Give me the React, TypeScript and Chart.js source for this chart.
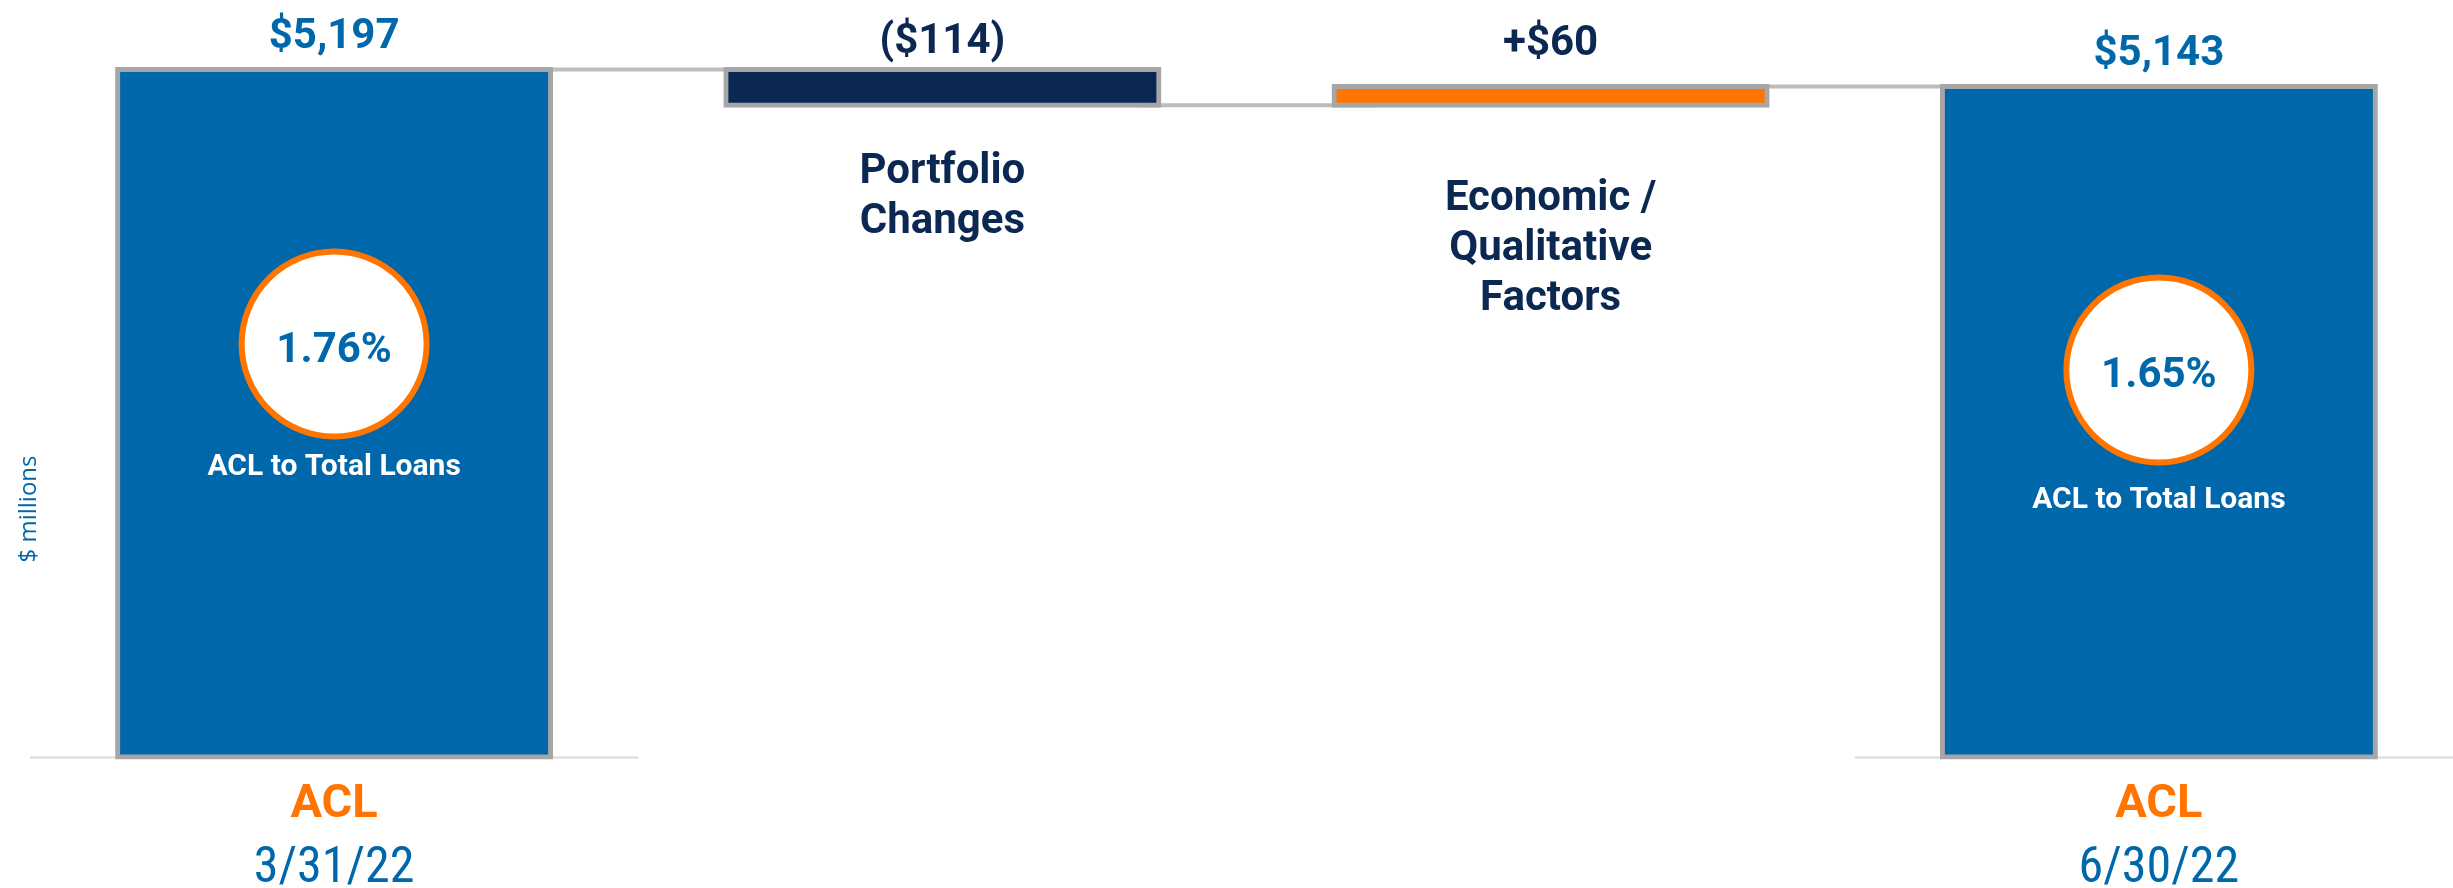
import React, { useEffect, useRef } from 'react';
import { Chart, registerables } from 'chart.js';

Chart.register(...registerables);

// ---------- data ----------
const categories = ['ACL 3/31/22', 'Portfolio Changes', 'Economic / Qualitative Factors', 'ACL 6/30/22'];
const axisTopLabels = ['ACL', '', '', 'ACL'];
const axisDateLabels = ['3/31/22', '', '', '6/30/22'];
const startingACL = 5197;
const stepChanges = [-114, 60];
const endingACL = 5143;
const valueLabels = ['$5,197', '($114)', '+$60', '$5,143'];
const ratioLabels = ['1.76%', '', '', '1.65%'];
const ratioCaption = 'ACL to Total Loans';
const stepNames: string[][] = [[], ['Portfolio', 'Changes'], ['Economic /', 'Qualitative', 'Factors'], []];
const axisFloor = 3000;
const axisCeiling = 5400;
const unitLabel = '$ millions';

// floating bars built from the values above
const barRanges: number[][] = [];
const levels: number[] = [];
barRanges.push([axisFloor, startingACL]);
let running = startingACL;
levels.push(running);
for (const c of stepChanges) {
  const next = running + c;
  barRanges.push([Math.min(running, next), Math.max(running, next)]);
  running = next;
  levels.push(running);
}
barRanges.push([axisFloor, endingACL]);

// ---------- styles ----------
const BLUE = '#0068AA';
const NAVY = '#0B2852';
const ORANGE = '#FF7500';
const GREY = '#A6A6A6';
const barColors = [BLUE, NAVY, ORANGE, BLUE];
const valueColors = [BLUE, NAVY, NAVY, BLUE];
const valueGap = [21.5, 16.5, 31, 21.5];
const nameOffset = [0, 78, 105, 0];
const circleOffset = [274.5, 0, 0, 283.5];
const captionOffset = [131, 0, 0, 138];
const VIEW_W = 2453;
const CANVAS_W = 2463;
const CANVAS_H = 888;

const decorPlugin = {
  id: 'waterfallDecor',
  beforeDatasetsDraw(chart: any) {
    const { ctx } = chart;
    const x = chart.scales.x;
    const y = chart.scales.y;
    const meta = chart.getDatasetMeta(0);
    const catW = x.getPixelForValue(1) - x.getPixelForValue(0);
    ctx.save();
    const baseY = y.getPixelForValue(axisFloor);
    ctx.strokeStyle = '#D9D9D9';
    ctx.lineWidth = 2;
    [0, 3].forEach((i) => {
      const cx = x.getPixelForValue(i);
      ctx.beginPath();
      ctx.moveTo(cx - catW / 2, baseY + 0.5);
      ctx.lineTo(Math.min(cx + catW / 2, VIEW_W), baseY + 0.5);
      ctx.stroke();
    });
    ctx.strokeStyle = '#BDBDBD';
    ctx.lineWidth = 4;
    for (let i = 0; i < levels.length; i++) {
      const a = meta.data[i];
      const b = meta.data[i + 1];
      const ly = y.getPixelForValue(levels[i]);
      ctx.beginPath();
      ctx.moveTo(a.x + a.width / 2 - 18, ly);
      ctx.lineTo(b.x - b.width / 2 + 40, ly);
      ctx.stroke();
    }
    ctx.restore();
  },
  afterDatasetsDraw(chart: any) {
    const { ctx } = chart;
    const y = chart.scales.y;
    const meta = chart.getDatasetMeta(0);
    ctx.save();
    ctx.textAlign = 'center';
    ctx.textBaseline = 'alphabetic';
    meta.data.forEach((el: any, i: number) => {
      const top = y.getPixelForValue(barRanges[i][1]);
      const bottom = y.getPixelForValue(barRanges[i][0]);
      ctx.font = 'bold 42px Roboto';
      ctx.fillStyle = valueColors[i];
      ctx.fillText(valueLabels[i], el.x, top - valueGap[i]);
      stepNames[i].forEach((line, j) => {
        ctx.font = 'bold 42px Roboto';
        ctx.fillStyle = NAVY;
        ctx.fillText(line, el.x, bottom + nameOffset[i] + j * 50);
      });
      if (ratioLabels[i]) {
        const cy = top + circleOffset[i];
        ctx.beginPath();
        ctx.arc(el.x, cy, 92.5, 0, Math.PI * 2);
        ctx.fillStyle = '#FFFFFF';
        ctx.fill();
        ctx.lineWidth = 6;
        ctx.strokeStyle = ORANGE;
        ctx.stroke();
        ctx.font = 'bold 42px Roboto';
        ctx.fillStyle = BLUE;
        ctx.fillText(ratioLabels[i], el.x, cy + 17.5);
        ctx.font = 'bold 30px Roboto';
        ctx.fillStyle = '#FFFFFF';
        ctx.fillText(ratioCaption, el.x, cy + captionOffset[i]);
      }
    });
    ctx.translate(29, 509);
    ctx.rotate(-Math.PI / 2);
    ctx.font = '24px "Open Sans"';
    ctx.fillStyle = BLUE;
    ctx.textBaseline = 'middle';
    ctx.fillText(unitLabel, 0, 0);
    ctx.restore();
  },
};

export default function App() {
  const ref = useRef<HTMLCanvasElement | null>(null);
  useEffect(() => {
    document.body.style.margin = '0';
    const canvas = ref.current;
    if (!canvas) return;
    const chart = new Chart(canvas, {
      type: 'bar',
      data: {
        labels: categories,
        datasets: [
          {
            data: barRanges as any,
            backgroundColor: barColors,
            borderColor: GREY,
            borderWidth: 5,
            borderSkipped: false,
            inflateAmount: 2.5,
            barThickness: 433,
            clip: false,
          } as any,
        ],
      },
      options: {
        animation: false,
        responsive: false,
        devicePixelRatio: 1,
        events: [],
        layout: { padding: { left: 30, right: 0, top: 6, bottom: 0 } },
        plugins: { legend: { display: false }, tooltip: { enabled: false }, title: { display: false } },
        scales: {
          y: { display: false, min: axisFloor, max: axisCeiling },
          x: {
            position: 'bottom',
            weight: 1,
            offset: true,
            grid: { display: false, drawTicks: false, tickLength: 0 },
            border: { display: false },
            ticks: {
              autoSkip: false,
              maxRotation: 0,
              minRotation: 0,
              padding: 20,
              color: ORANGE,
              font: { family: 'Roboto', weight: 'bold', size: 47 },
              callback: (_v: any, i: number) => axisTopLabels[i],
            },
            afterFit: (s: any) => { s.height = 70; },
          },
          x2: {
            type: 'category',
            position: 'bottom',
            weight: 2,
            offset: true,
            grid: { display: false, drawTicks: false, tickLength: 0 },
            border: { display: false },
            ticks: {
              autoSkip: false,
              maxRotation: 0,
              minRotation: 0,
              padding: 12,
              color: BLUE,
              font: { family: '"Liberation Sans Narrow", "Roboto Condensed", Roboto', size: 50 },
              callback: (_v: any, i: number) => axisDateLabels[i],
            },
            afterFit: (s: any) => { s.height = 61; },
          },
        },
      } as any,
      plugins: [decorPlugin],
    });
    return () => chart.destroy();
  }, []);
  return (
    <div style={{ width: VIEW_W, height: CANVAS_H, overflow: 'hidden' }}>
      <canvas
        ref={ref}
        width={CANVAS_W}
        height={CANVAS_H}
        style={{ display: 'block', width: CANVAS_W, height: CANVAS_H }}
      />
    </div>
  );
}
